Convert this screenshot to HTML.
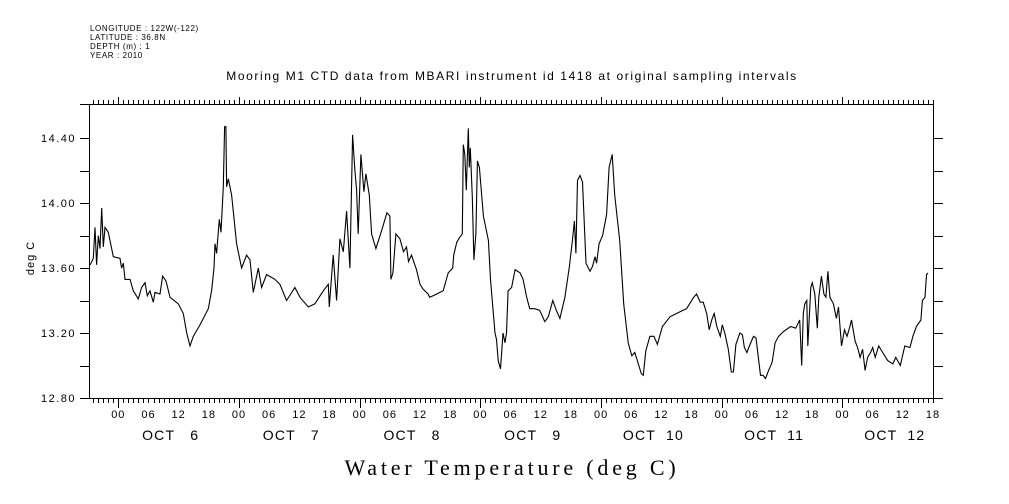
<!DOCTYPE html>
<html><head><meta charset="utf-8"><style>
html,body{margin:0;padding:0;background:#fff;}
svg{display:block;}
text{font-family:"Liberation Sans",sans-serif;fill:#000;white-space:pre;}
</style></head><body>
<svg id="chart" width="1009" height="504" viewBox="0 0 1009 504" xmlns="http://www.w3.org/2000/svg" xml:space="preserve">
<g font-size="8" letter-spacing="0.6">
<text x="90" y="31">LONGITUDE : 122W(-122)</text>
<text x="90" y="40">LATITUDE : 36.8N</text>
<text x="90" y="49">DEPTH (m) : 1</text>
<text x="90" y="58">YEAR : 2010</text>
</g>
<text x="512" y="80" text-anchor="middle" font-size="12" letter-spacing="1.6">Mooring M1 CTD data from MBARI instrument id 1418 at original sampling intervals</text>
<text x="512" y="475" text-anchor="middle" font-size="22" letter-spacing="3.8" style="font-family:'Liberation Serif',serif">Water Temperature (deg C)</text>
<text transform="translate(34,258) rotate(-90)" text-anchor="middle" font-size="11" letter-spacing="1">deg C</text>
<g id="axes"></g>
<path id="series" fill="none" stroke="#000" stroke-width="1.1"></path>
</svg>
<script>
const times = [-5.57,-4.97,-4.64,-4.31,-3.98,-3.64,-3.31,-2.98,-2.65,-1.99,-0.99,0.33,0.66,0.99,1.33,2.32,2.98,3.98,4.64,5.3,5.77,6.3,6.96,7.29,8.28,8.81,9.48,10.27,11.93,12.92,13.59,14.25,14.91,16.24,17.89,18.56,19.02,19.22,19.55,20.08,20.41,20.87,21.14,21.4,21.54,21.87,22.53,23.53,24.52,25.51,26.18,26.84,27.83,28.5,29.49,31.15,32.14,33.47,35.12,36.12,37.77,39.1,40.76,41.75,41.95,42.41,42.74,43.41,44.07,44.73,45.39,46.06,46.59,47.05,47.38,47.71,48.24,48.84,49.24,49.9,50.36,51.23,52.35,53.4,54.0,54.2,54.6,55.2,56.0,56.7,57.3,57.7,58.3,59.3,60.0,60.6,61.6,61.9,62.6,64.6,65.6,66.5,66.7,67.3,67.9,68.4,68.6,68.9,69.2,69.6,69.8,70.0,70.4,70.7,71.1,71.4,71.8,72.6,73.6,74.0,74.9,75.2,75.55,76.0,76.5,76.9,77.2,77.5,78.2,78.9,79.9,80.5,81.2,81.8,82.8,83.8,84.8,85.5,86.4,87.1,87.8,88.8,89.7,90.3,90.7,91.0,91.3,91.8,92.3,93.0,93.8,94.3,94.8,95.1,95.6,96.3,97.1,97.6,98.2,98.7,99.7,100.5,101.4,102.1,102.7,103.4,104.0,104.4,104.9,105.7,106.5,107.2,108.2,109.7,111.0,112.3,113.0,114.4,115.0,115.7,116.3,117.0,117.5,118.0,118.5,119.0,119.7,120.1,120.6,121.3,121.9,122.3,122.8,123.6,124.1,124.5,125.0,125.5,126.3,126.8,127.7,128.2,128.7,129.3,130.0,130.6,131.3,132.3,133.7,134.7,135.5,135.9,136.2,136.5,136.9,137.1,137.4,137.7,138.0,138.5,139.0,139.3,139.8,140.3,140.7,141.1,141.5,142.2,142.8,143.2,143.8,144.4,144.9,145.3,145.8,146.5,147.0,147.5,148.0,148.5,149.0,149.6,150.0,150.5,151.2,152.0,153.0,154.0,154.6,155.5,156.4,157.4,158.0,158.7,159.6,159.9,160.4,160.7,161.0];
const temps = [13.62,13.66,13.85,13.62,13.8,13.72,13.97,13.73,13.85,13.82,13.67,13.66,13.6,13.63,13.53,13.53,13.46,13.41,13.48,13.51,13.43,13.46,13.39,13.45,13.44,13.55,13.52,13.42,13.38,13.32,13.2,13.12,13.18,13.25,13.35,13.46,13.6,13.75,13.69,13.9,13.82,14.1,14.47,14.47,14.1,14.15,14.05,13.75,13.6,13.68,13.65,13.45,13.6,13.48,13.56,13.53,13.5,13.4,13.48,13.42,13.36,13.38,13.46,13.5,13.36,13.55,13.68,13.4,13.78,13.7,13.95,13.6,14.42,14.2,14.08,13.81,14.3,14.07,14.18,14.05,13.81,13.72,13.83,13.94,13.92,13.53,13.57,13.81,13.78,13.7,13.73,13.64,13.68,13.59,13.5,13.47,13.44,13.42,13.43,13.46,13.57,13.6,13.68,13.76,13.79,13.81,14.36,14.3,14.08,14.46,14.22,14.34,14.04,13.65,13.81,14.26,14.22,13.92,13.77,13.53,13.2,13.16,13.03,12.98,13.2,13.14,13.2,13.46,13.48,13.59,13.57,13.53,13.42,13.35,13.35,13.34,13.27,13.3,13.4,13.34,13.29,13.42,13.61,13.77,13.89,13.69,14.14,14.17,14.13,13.63,13.58,13.61,13.67,13.63,13.75,13.8,13.93,14.22,14.3,14.05,13.77,13.38,13.14,13.06,13.08,13.01,12.95,12.94,13.09,13.18,13.18,13.13,13.24,13.3,13.32,13.34,13.35,13.42,13.44,13.39,13.39,13.32,13.22,13.28,13.32,13.24,13.18,13.25,13.2,13.1,12.96,12.96,13.13,13.2,13.19,13.11,13.08,13.12,13.18,13.17,12.94,12.94,12.92,12.97,13.02,13.14,13.18,13.21,13.24,13.23,13.28,13.0,13.32,13.38,13.4,13.12,13.3,13.48,13.51,13.44,13.23,13.42,13.55,13.44,13.42,13.58,13.42,13.38,13.29,13.36,13.12,13.22,13.18,13.22,13.28,13.15,13.11,13.05,13.1,12.97,13.05,13.08,13.11,13.05,13.12,13.08,13.03,13.01,13.05,13.0,13.12,13.11,13.18,13.24,13.28,13.4,13.42,13.56,13.57];
const yTickValues = [12.8,13.0,13.2,13.4,13.6,13.8,14.0,14.2,14.4];
const yTickLabels = ["12.80","13.20","13.60","14.00","14.40"];
const hourLabels = ["00","06","12","18"];
const dayLabels = ["OCT   6","OCT   7","OCT   8","OCT   9","OCT  10","OCT  11","OCT  12"];

const L=90,R=933,T=104,B=398;
const tMin=-5.63,tMax=162,vMin=12.8,vMax=14.61;
function xs(t){return L+(t-tMin)/(tMax-tMin)*(R-L);}
function ys(v){return B-(v-vMin)/(vMax-vMin)*(B-T);}
const NS="http://www.w3.org/2000/svg";
const ax=document.getElementById('axes');
function ln(x1,y1,x2,y2,name){const e=document.createElementNS(NS,'line');e.setAttribute('x1',x1);e.setAttribute('y1',y1);e.setAttribute('x2',x2);e.setAttribute('y2',y2);e.setAttribute('stroke','#000');e.setAttribute('stroke-width','1');


ax.appendChild(e);}
function tx(x,y,s,size,anchor,ls,name){const e=document.createElementNS(NS,'text');e.setAttribute('x',x);e.setAttribute('y',y);e.setAttribute('font-size',size);e.setAttribute('text-anchor',anchor);e.setAttribute('letter-spacing',ls);e.textContent=s;


ax.appendChild(e);}
ln(80,T+0.5,R,T+0.5,'top-axis');
ln(L-0.5,T,L-0.5,B,'left-axis');
ln(R+0.5,T,R+0.5,B,'right-axis');
ln(L,B+0.5,R,B+0.5,'bottom-axis');
yTickValues.forEach(v=>{const y=Math.round(ys(v))+0.5;ln(80,y,L,y,'y-tick');ln(R,y,R+10,y,'y-tick-right');});
yTickLabels.forEach(s=>{tx(76,ys(parseFloat(s))+4,s,11,'end','1.5','y-tick-label');});
for(let h=Math.ceil(tMin);h<=tMax;h++){const x=Math.round(xs(h))+0.5;const major=((h%24)+24)%24===0;
ln(x,T,x,T-(major?7:4),'x-tick-top');ln(x,B,x,B+(major?10:5),'x-tick');
if(h%6===0){tx(xs(h),418,hourLabels[((h/6)%4+4)%4],11,'middle','1','hour-label');}}
dayLabels.forEach((s,i)=>{tx(xs(i*24+12)-8,440,s,14,'middle','1.2','day-label');});
let d='';times.forEach((t,i)=>{d+=(i?'L':'M')+xs(t).toFixed(1)+','+ys(temps[i]).toFixed(1);});
document.getElementById('series').setAttribute('d',d);
</script>
</body></html>
